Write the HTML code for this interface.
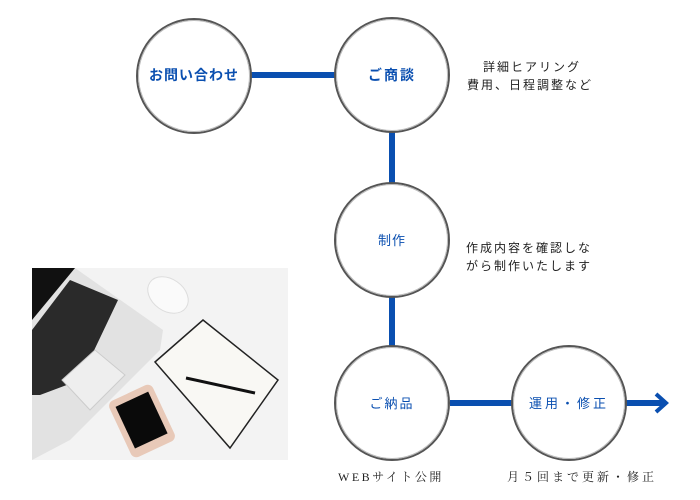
<!DOCTYPE html>
<html><head><meta charset="utf-8"><style>
body{margin:0;width:700px;height:500px;background:#fff;overflow:hidden;font-family:"Liberation Sans","Noto Sans CJK JP",sans-serif}
</style></head><body>
<svg width="700" height="500" xmlns="http://www.w3.org/2000/svg" style="position:absolute;left:0;top:0">
<g stroke="#0a4fb0" stroke-width="6" fill="none">
<line x1="250" y1="75" x2="336" y2="75"/>
<line x1="392" y1="132" x2="392" y2="184"/>
<line x1="392" y1="297" x2="392" y2="347"/>
<line x1="450" y1="403" x2="512" y2="403"/>
<line x1="626" y1="403" x2="664" y2="403"/>
<polyline points="656,394 666,403 656,412" stroke-width="4"/>
</g>
<g fill="#fff" stroke="#555" stroke-width="2">
<circle cx="194" cy="76" r="57"/>
<circle cx="392" cy="75" r="57"/>
<circle cx="392" cy="240" r="57"/>
<circle cx="392" cy="403" r="57"/>
<circle cx="569" cy="403" r="57"/>
</g>
<g fill="none" stroke="#bbb" stroke-width="1">
<circle cx="194" cy="76" r="55.5"/><circle cx="392" cy="75" r="55.5"/><circle cx="392" cy="240" r="55.5"/><circle cx="392" cy="403" r="55.5"/><circle cx="569" cy="403" r="55.5"/>
</g>
<g fill="#0a4fb0" text-anchor="middle" font-family="Liberation Sans,Noto Sans CJK JP,sans-serif">
<text x="194" y="80" font-size="14" font-weight="bold" letter-spacing="1">お問い合わせ</text>
<text x="392" y="80" font-size="14" font-weight="bold" letter-spacing="2">ご商談</text>
<text x="392" y="245" font-size="13" letter-spacing="1">制作</text>
<text x="392" y="408" font-size="13" letter-spacing="2">ご納品</text>
<text x="569" y="408" font-size="13" letter-spacing="3">運用・修正</text>
</g>
<g fill="#222" font-size="12" font-family="Liberation Sans,Noto Sans CJK JP,sans-serif" letter-spacing="2">
<text x="483" y="71">詳細ヒアリング</text>
<text x="467" y="89">費用、日程調整など</text>
<text x="466" y="252">作成内容を確認しな</text>
<text x="466" y="270">がら制作いたします</text>
</g>
<g fill="#222" font-size="12" font-family="Liberation Serif,Noto Serif CJK SC,serif">
<text x="338" y="481" letter-spacing="2.5">WEBサイト公開</text>
<text x="507" y="481" letter-spacing="3">月５回まで更新・修正</text>
</g>
<!-- photo -->
<rect x="32" y="268" width="256" height="192" fill="#f3f3f3"/>
<path d="M32,268 L75,268 L163,330 L160,350 L70,440 L32,460Z" fill="#e2e2e2"/>
<path d="M32,268 L75,268 L32,320Z" fill="#111"/>
<path d="M32,330 L70,280 L118,300 L80,380 L40,395 L32,395Z" fill="#2a2a2a"/>
<path d="M62,380 L95,350 L125,375 L90,410Z" fill="#eeeeee" stroke="#ccc"/>
<ellipse cx="168" cy="295" rx="22" ry="16" fill="#fafafa" stroke="#ddd" transform="rotate(35 168 295)"/>
<path d="M155,362 L203,320 L278,380 L230,448Z" fill="#f9f8f4" stroke="#222" stroke-width="1.5"/>
<line x1="186" y1="378" x2="255" y2="393" stroke="#111" stroke-width="3"/>
<rect x="118" y="390" width="48" height="62" rx="6" fill="#e8c9b8" transform="rotate(-25 142 421)"/>
<rect x="124" y="397" width="36" height="46" fill="#0a0a0a" transform="rotate(-25 142 421)"/>
</svg>
</body></html>
